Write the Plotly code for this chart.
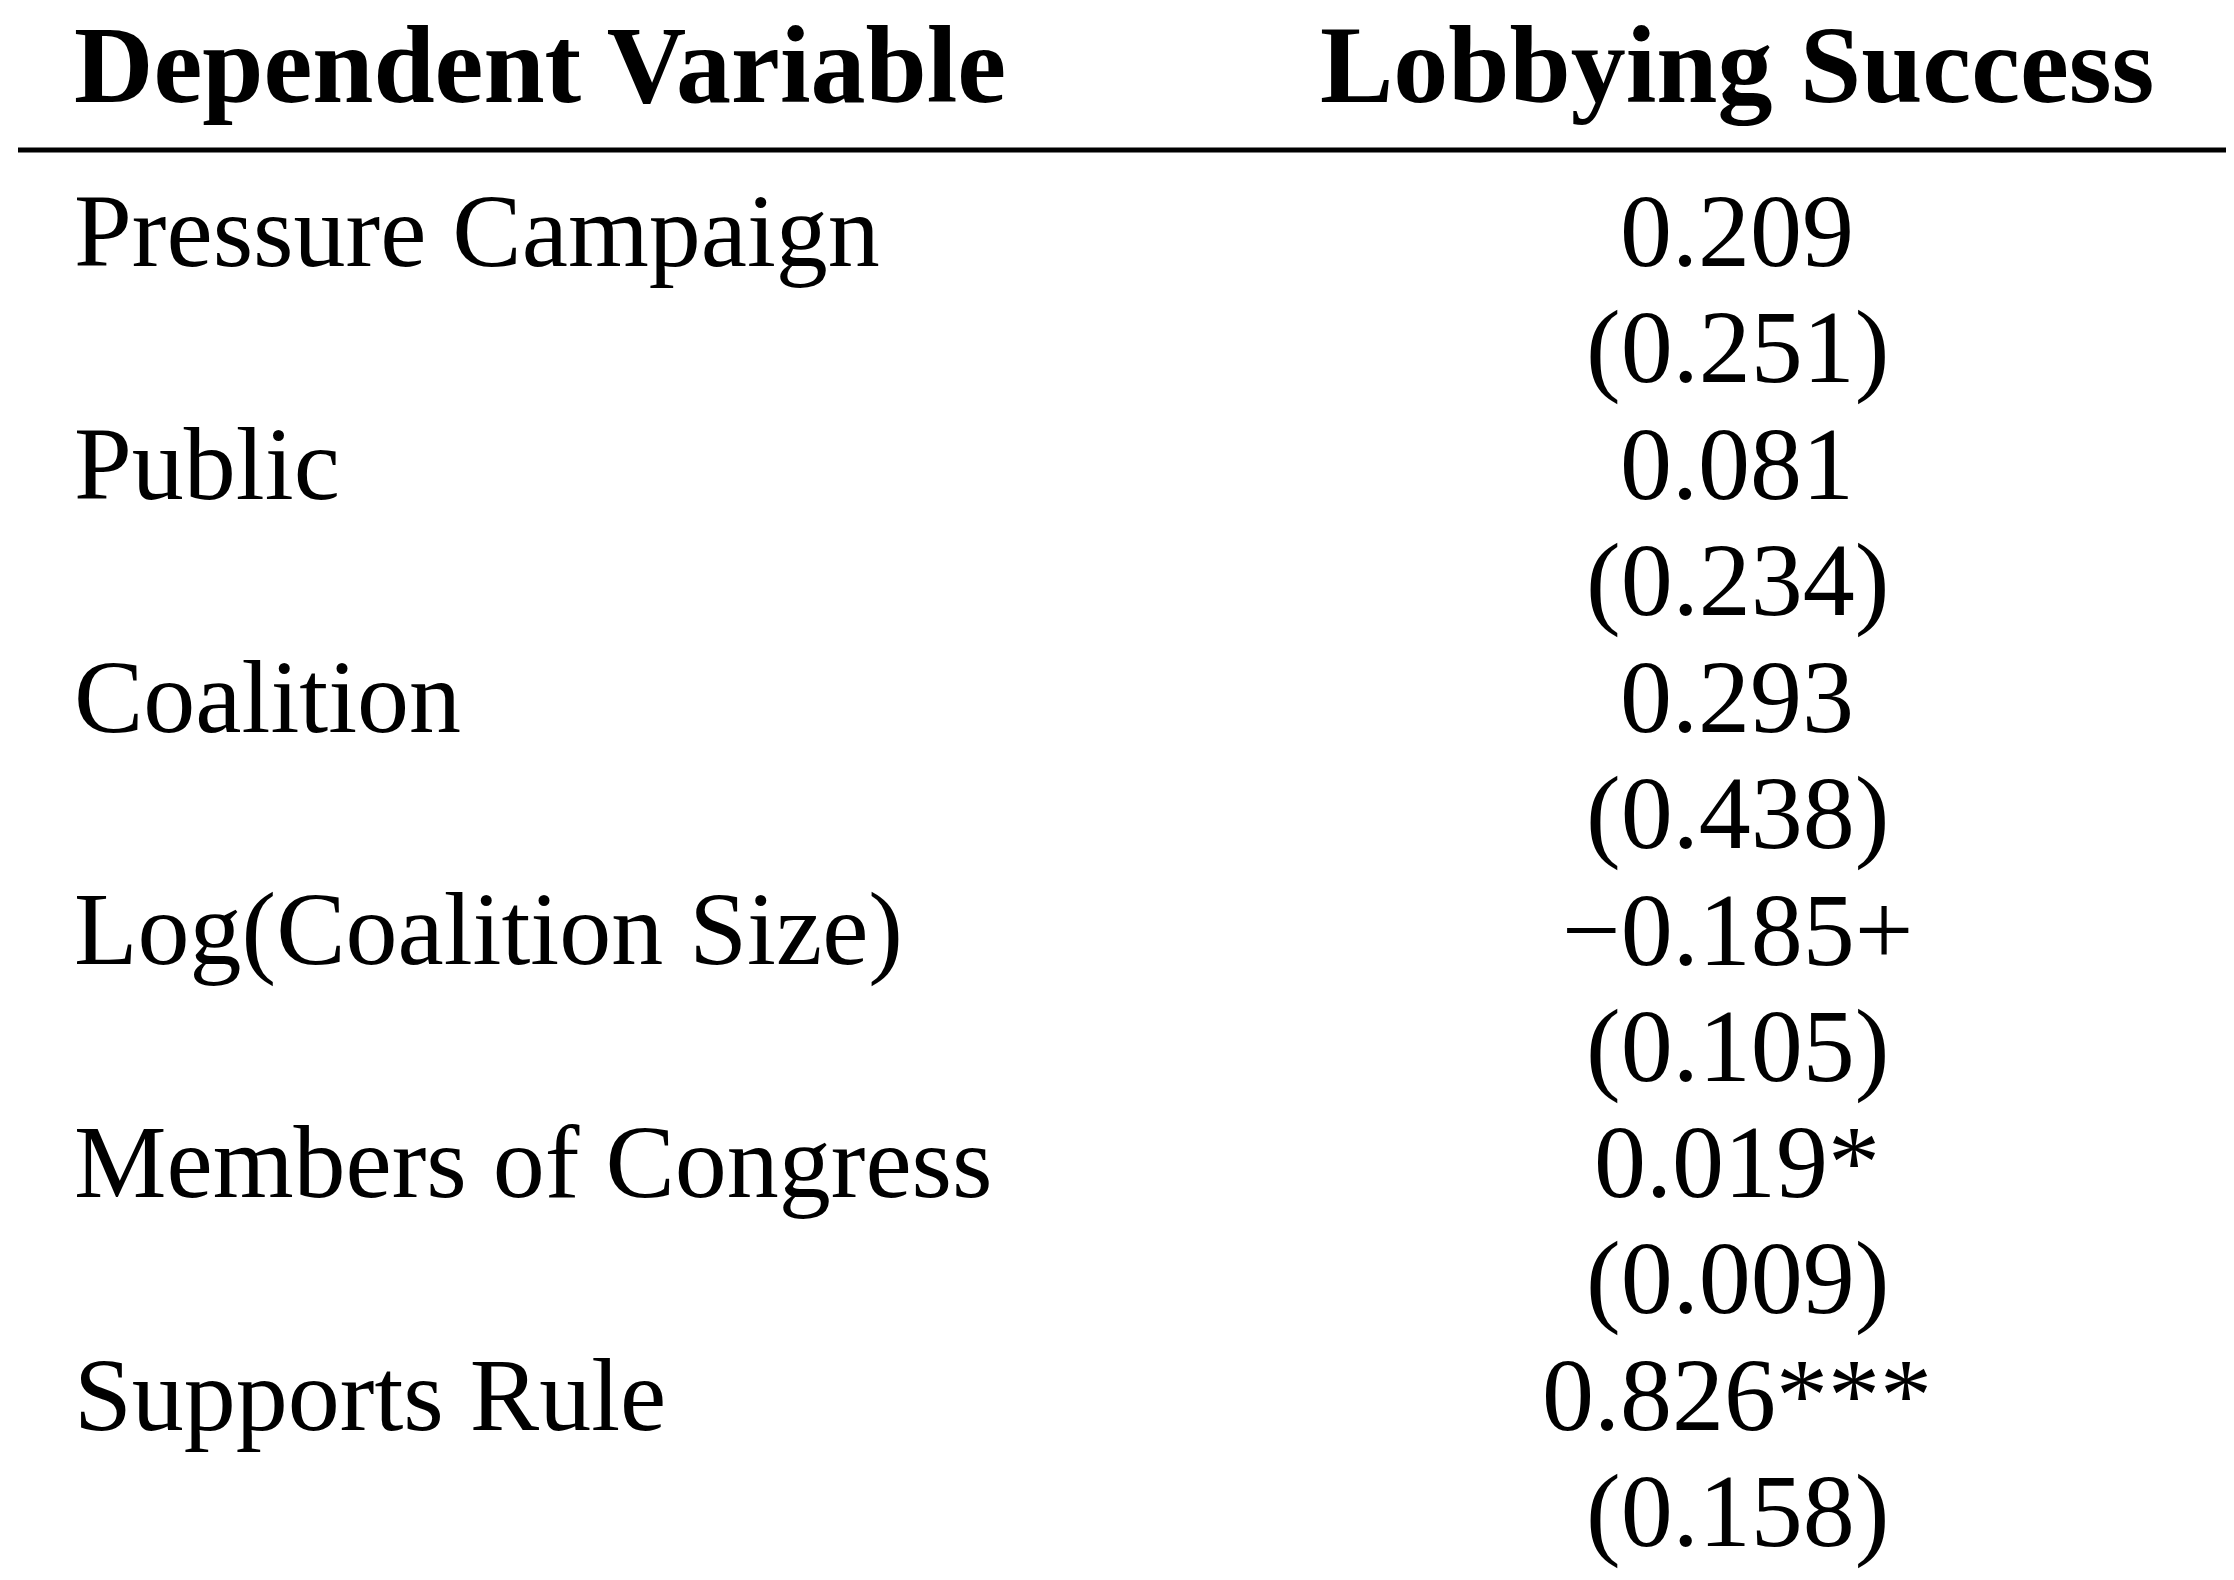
import plotly.graph_objects as go

header = ["Dependent Variable", "Lobbying Success"]
variables = ["Pressure Campaign", "Public", "Coalition", "Log(Coalition Size)",
             "Members of Congress", "Supports Rule"]
coefs = ["0.209", "0.081", "0.293", "\u22120.185+", "0.019*", "0.826***"]
ses = ["(0.251)", "(0.234)", "(0.438)", "(0.105)", "(0.009)", "(0.158)"]

FONT = "Liberation Serif"
SIZE = 104
fig = go.Figure()
ann = []
ann.append(dict(x=64, y=-1.5, text="<b>%s</b>" % header[0], xanchor="left", size=110))
ann.append(dict(x=1729, y=-1.5, text="<b>%s</b>" % header[1], xanchor="center", size=110))
for i, v in enumerate(variables):
    ann.append(dict(x=64, y=2 * i - 0.08, text=v, xanchor="left", size=SIZE))
    ann.append(dict(x=1729, y=2 * i - 0.08, text=coefs[i], xanchor="center", size=SIZE))
    ann.append(dict(x=1729, y=2 * i + 1 - 0.08, text=ses[i], xanchor="center", size=SIZE))
for a in ann:
    s = a.pop("size")
    a.update(xref="x", yref="y", showarrow=False, yanchor="middle",
             font=dict(family=FONT, size=s, color="black"))
fig.update_layout(
    annotations=ann,
    shapes=[dict(type="line", xref="x", yref="y", x0=10, x1=2234, y0=-0.773, y1=-0.773,
                 line=dict(color="black", width=5))],
    width=2234, height=1580, margin=dict(l=0, r=0, t=0, b=0),
    paper_bgcolor="white", plot_bgcolor="white", showlegend=False,
    xaxis=dict(range=[0, 2234], visible=False, fixedrange=True),
    yaxis=dict(range=[11.58, -1.993], visible=False, fixedrange=True),
)
fig.write_html("out.html")
